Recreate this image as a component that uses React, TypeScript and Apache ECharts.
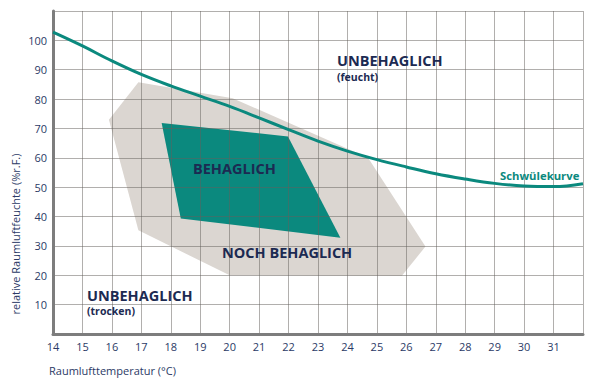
import { useEffect, useRef } from "react";
import * as echarts from "echarts";

// Schwülekurve (temperature °C -> relative humidity %)
const curveX = [14, 15, 16, 17, 18, 19, 20, 21, 22, 23, 24, 25, 26, 27, 28, 29, 30, 31, 32];
const curveY = [102.8, 98.1, 93.0, 88.4, 84.5, 81.0, 77.5, 73.6, 69.6, 65.7, 62.3, 59.4, 56.9, 54.6, 52.8, 51.3, 50.4, 50.2, 51.2];

// "noch behaglich" zone (gray polygon)
const grayX = [15.9, 16.9, 20.1, 24.7, 26.65, 25.85, 20.0, 16.9];
const grayY = [73.0, 85.7, 80.3, 60.0, 29.8, 19.8, 20.0, 35.3];

// "behaglich" zone (teal polygon)
const tealX = [17.69, 21.98, 23.76, 18.34];
const tealY = [71.9, 67.3, 32.8, 39.3];

const xMin = 14;
const xMax = 32;
const yMin = 0;
const yMax = 110;

const TEAL = "#0b897e";
const GRAY = "#dbd6d1";
const NAVY = "#1c2a52";
const LABEL = "#2b3a66";
const FONT = "'Open Sans', 'Noto Sans', sans-serif";

function polygonSeries(xs: number[], ys: number[], color: string, z: number) {
  return {
    type: "custom",
    z,
    silent: true,
    data: [[xs[0], ys[0]]],
    renderItem: (_params: any, api: any) => ({
      type: "polygon",
      shape: { points: xs.map((x, i) => api.coord([x, ys[i]])) },
      style: { fill: color },
    }),
  };
}

function txt(text: string, x: number, y: number, size: number, color: string, weight: string | number = "bold") {
  return {
    type: "text",
    x,
    y,
    silent: true,
    z: 20,
    style: {
      text,
      fill: color,
      fontSize: size,
      lineHeight: size,
      fontWeight: weight,
      fontFamily: FONT,
      textAlign: "left",
      textVerticalAlign: "top",
    },
  };
}

export default function App() {
  const ref = useRef<HTMLDivElement>(null);
  useEffect(() => {
    if (!ref.current) return;
    const chart = echarts.init(ref.current, undefined, { renderer: "svg" });
    chart.setOption({
      animation: false,
      backgroundColor: "#ffffff",
      grid: { left: 53, right: 17, top: 11, bottom: 51, containLabel: false },
      xAxis: {
        type: "value",
        min: xMin,
        max: xMax,
        interval: 1,
        z: 5,
        axisLine: { show: true, onZero: false, lineStyle: { color: "#7d7d7d", width: 3 } },
        axisTick: { show: false },
        axisLabel: {
          color: LABEL,
          fontSize: 11,
          fontFamily: FONT,
          margin: 7,
          formatter: (v: number) => (v === xMax ? "" : String(v)),
        },
        splitLine: { show: true, lineStyle: { color: "rgba(100,96,92,0.5)", width: 1 } },
      },
      yAxis: {
        type: "value",
        min: yMin,
        max: yMax,
        interval: 10,
        z: 5,
        axisLine: { show: true, onZero: false, lineStyle: { color: "#7d7d7d", width: 3 } },
        axisTick: { show: false },
        axisLabel: {
          color: LABEL,
          fontSize: 11,
          fontFamily: FONT,
          margin: 6,
          formatter: (v: number) => (v === yMin || v === yMax ? "" : String(v)),
        },
        splitLine: { show: true, lineStyle: { color: "rgba(100,96,92,0.5)", width: 1 } },
      },
      series: [
        polygonSeries(grayX, grayY, GRAY, 1),
        polygonSeries(tealX, tealY, TEAL, 2),
        {
          type: "line",
          z: 8,
          smooth: 0.4,
          symbol: "none",
          silent: true,
          data: curveX.map((x, i) => [x, curveY[i]]),
          lineStyle: { color: TEAL, width: 3 },
        },
      ],
      graphic: [
        txt("UNBEHAGLICH", 337, 53, 14.5, NAVY),
        txt("(feucht)", 337, 71.5, 10.5, NAVY),
        txt("BEHAGLICH", 193, 161, 14.5, NAVY),
        txt("NOCH BEHAGLICH", 222, 245, 14.5, NAVY),
        txt("UNBEHAGLICH", 87, 288, 14.5, NAVY),
        txt("(trocken)", 87, 306, 10.5, NAVY),
        txt("Schwülekurve", 500, 170, 11.3, TEAL),
        txt("Raumlufttemperatur (°C)", 49, 365, 11, LABEL, "normal"),
        {
          type: "text",
          x: 10,
          y: 234,
          rotation: Math.PI / 2,
          silent: true,
          z: 20,
          style: {
            text: "relative Raumluftfeuchte (%r.F.)",
            fill: LABEL,
            fontSize: 11,
            fontFamily: FONT,
            textAlign: "center",
            textVerticalAlign: "top",
          },
        },
      ],
    });
    return () => chart.dispose();
  }, []);
  return <div ref={ref} style={{ width: 600, height: 385, position: "absolute", left: 0, top: 0 }} />;
}
